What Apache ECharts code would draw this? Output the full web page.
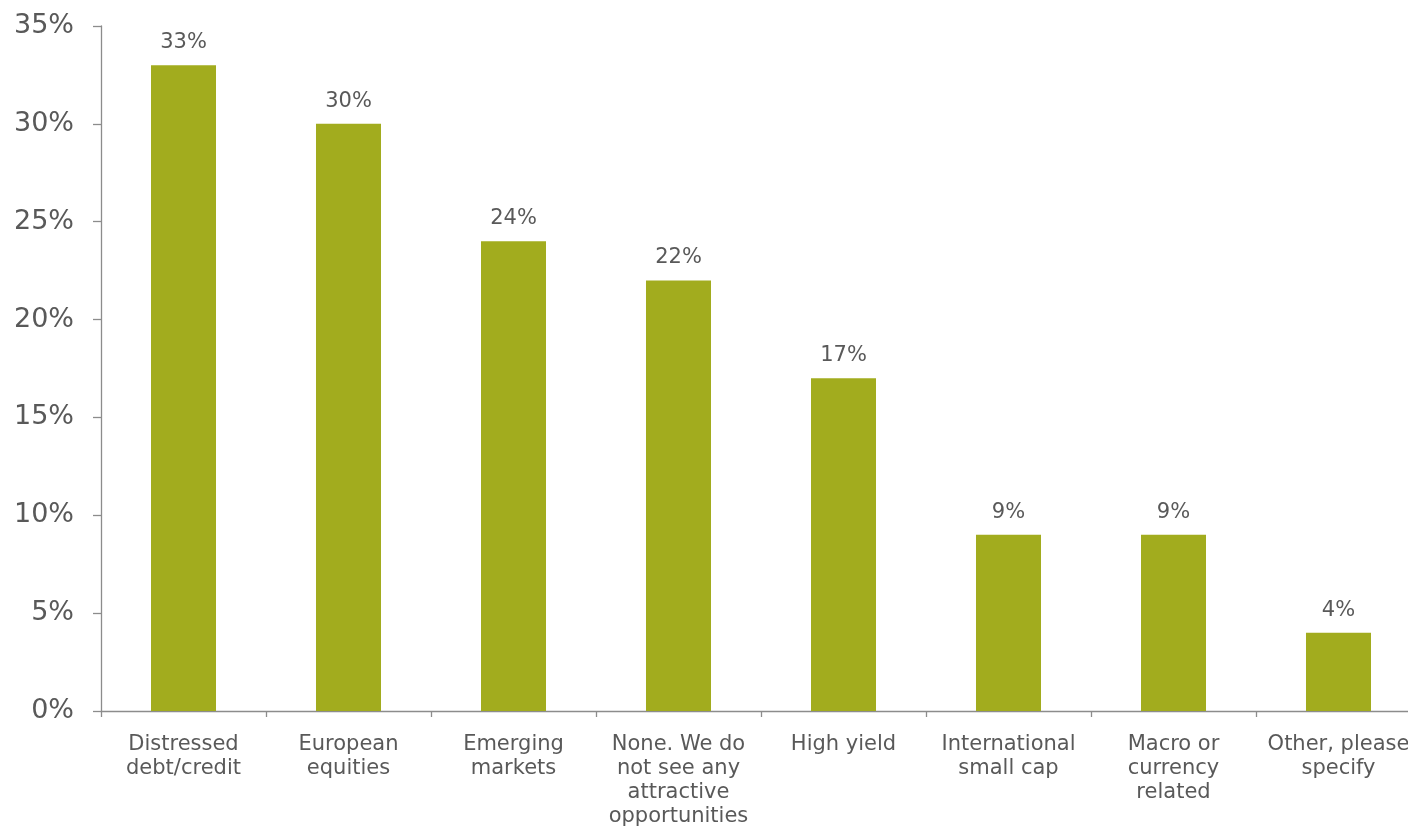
<!DOCTYPE html>
<html>
<head>
<meta charset="utf-8">
<title>Most attractive opportunities</title>
<script src="https://cdn.jsdelivr.net/npm/echarts@6/dist/echarts.min.js"></script>
<style>
  html, body { margin: 0; padding: 0; background: #ffffff; overflow: hidden; }
  /* the plot runs slightly past the right edge of the window */
  #chart { width: 1421px; height: 827px; }
</style>
</head>
<body>
<div id="chart"></div>
<script>
// Category names (line breaks as printed under the axis)
const categories = [
  'Distressed\ndebt/credit',
  'European\nequities',
  'Emerging\nmarkets',
  'None. We do\nnot see any\nattractive\nopportunities',
  'High yield',
  'International\nsmall cap',
  'Macro or\ncurrency\nrelated',
  'Other, please\nspecify'
];
// Share of respondents, in percent
const shares = [33, 30, 24, 22, 17, 9, 9, 4];
// Value axis range and step, in percent
const axisMin = 0;
const axisMax = 35;
const axisStep = 5;

const textColor = '#595959';
const axisColor = '#8c8c8c';
const barColor = '#a2ac1e';
const fontFamily = '"DejaVu Sans", Verdana, sans-serif';

const chart = echarts.init(document.getElementById('chart'), null, { renderer: 'canvas' });

chart.setOption({
  animation: false,
  backgroundColor: '#ffffff',
  grid: {
    left: 101, top: 26, right: 0, bottom: 116,
    containLabel: false,
    outerBoundsMode: 'none'
  },
  xAxis: {
    type: 'category',
    data: categories,
    axisLine: { show: true, lineStyle: { color: axisColor, width: 1.3 } },
    axisTick: { show: true, alignWithLabel: false, length: 6, lineStyle: { color: axisColor, width: 1.3 } },
    axisLabel: {
      interval: 0,
      margin: 22,
      color: textColor,
      fontFamily: fontFamily,
      fontSize: 21,
      lineHeight: 24,
      align: 'center'
    },
    splitLine: { show: false }
  },
  yAxis: {
    type: 'value',
    min: axisMin,
    max: axisMax,
    interval: axisStep,
    axisLine: { show: true, lineStyle: { color: axisColor, width: 1.3 } },
    axisTick: { show: true, length: 8, lineStyle: { color: axisColor, width: 1.3 } },
    axisLabel: {
      margin: 27,
      color: textColor,
      fontFamily: fontFamily,
      fontSize: 27,
      formatter: v => v + '%'
    },
    splitLine: { show: false }
  },
  series: [{
    type: 'bar',
    data: shares,
    barWidth: '39.4%',
    itemStyle: { color: barColor },
    label: {
      show: true,
      position: 'top',
      distance: 12,
      color: textColor,
      fontFamily: fontFamily,
      fontSize: 21,
      formatter: p => p.value + '%'
    }
  }]
});
</script>
</body>
</html>
